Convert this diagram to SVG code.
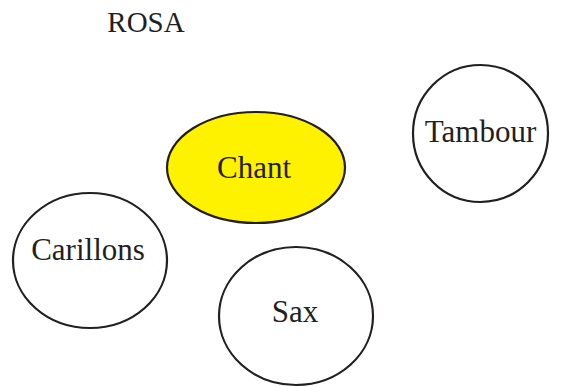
<svg xmlns="http://www.w3.org/2000/svg" width="563" height="387" viewBox="0 0 563 387">
<style>
.n{fill:#ffffff;stroke:#231f20;stroke-width:2.2}
.y{fill:#fff200}
.t{font-family:"Liberation Serif","Times New Roman",serif;font-size:31px;fill:#231f20;text-anchor:middle}
</style>
<rect width="563" height="387" fill="#ffffff"/>
<text class="t" x="146" y="32" style="font-size:29px">ROSA</text>
<g id="connectors"></g>
<g id="chant">
<ellipse class="n y" cx="256" cy="167.5" rx="89" ry="55.5"/>
<text class="t" x="254" y="178">Chant</text>
</g>
<g id="carillons">
<ellipse class="n" cx="90" cy="260.5" rx="77" ry="67.5"/>
<text class="t" x="88" y="260">Carillons</text>
</g>
<g id="sax">
<ellipse class="n" cx="296" cy="316" rx="77" ry="69"/>
<text class="t" x="295" y="322">Sax</text>
</g>
<g id="tambour">
<ellipse class="n" cx="480.5" cy="133.5" rx="67.5" ry="68.5"/>
<text class="t" x="480.5" y="142">Tambour</text>
</g>
</svg>
